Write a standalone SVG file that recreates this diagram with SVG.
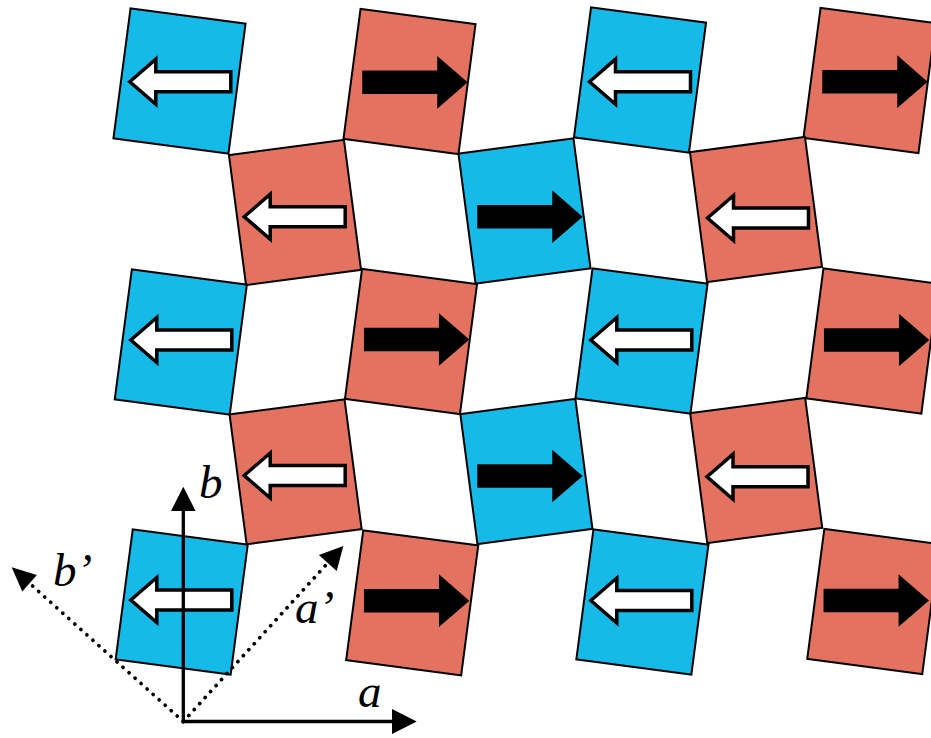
<svg xmlns="http://www.w3.org/2000/svg" xmlns:xlink="http://www.w3.org/1999/xlink" width="931" height="738" viewBox="0 0 931 738">
<style>
.blue{fill:#15BAE8;stroke:#000;stroke-width:2}
.red{fill:#E47260;stroke:#000;stroke-width:2}
.wa{fill:#fff;stroke:#000;stroke-width:3.5;stroke-linejoin:miter}
.ba{fill:#000;stroke:#000;stroke-width:3.5;stroke-linejoin:miter}
.axis{fill:none;stroke:#000;stroke-width:3.3;stroke-linejoin:miter}
.dot{fill:none;stroke:#000;stroke-width:3.7;stroke-linecap:round;stroke-dasharray:0.1 8}
.lbl{font-family:"Liberation Serif","Times New Roman",serif;font-style:italic;font-size:47px;fill:#000}
</style>
<defs>
<rect id="sq" x="-58" y="-65.5" width="116" height="131"/>
<path id="arr" d="M-50,0 L-24,-22.5 L-24,-10 L51,-10 L51,10 L-24,10 L-24,22.5 Z"/>
</defs>
<rect width="931" height="738" fill="#fff"/>
<g id="r1c1"><use xlink:href="#sq" class="blue" transform="translate(179.5,81) rotate(7.5)"/><use xlink:href="#arr" class="wa" transform="translate(179.8,81.7)"/></g>
<g id="r1c2"><use xlink:href="#sq" class="red" transform="translate(409.5,81.5) rotate(7.5)"/><use xlink:href="#arr" class="ba" transform="translate(415,82.3) scale(-1,1)"/></g>
<g id="r1c3"><use xlink:href="#sq" class="blue" transform="translate(640,80) rotate(7.5)"/><use xlink:href="#arr" class="wa" transform="translate(639.5,81.7)"/></g>
<g id="r1c4"><use xlink:href="#sq" class="red" transform="translate(869.5,80.5) rotate(7.5)"/><use xlink:href="#arr" class="ba" transform="translate(875,81.7) scale(-1,1)"/></g>
<g id="r2c1"><use xlink:href="#sq" class="red" transform="translate(295,212.5) rotate(-7.5)"/><use xlink:href="#arr" class="wa" transform="translate(294.2,216.7)"/></g>
<g id="r2c2"><use xlink:href="#sq" class="blue" transform="translate(524.5,211) rotate(-7.5)"/><use xlink:href="#arr" class="ba" transform="translate(530,216.7) scale(-1,1)"/></g>
<g id="r2c3"><use xlink:href="#sq" class="red" transform="translate(756,209.5) rotate(-7.5)"/><use xlink:href="#arr" class="wa" transform="translate(757.5,218)"/></g>
<g id="r3c1"><use xlink:href="#sq" class="blue" transform="translate(180.8,342) rotate(7.5)"/><use xlink:href="#arr" class="wa" transform="translate(180.8,340)"/></g>
<g id="r3c2"><use xlink:href="#sq" class="red" transform="translate(411,341.5) rotate(7.5)"/><use xlink:href="#arr" class="ba" transform="translate(416.7,339.5) scale(-1,1)"/></g>
<g id="r3c3"><use xlink:href="#sq" class="blue" transform="translate(641.5,341) rotate(7.5)"/><use xlink:href="#arr" class="wa" transform="translate(640.8,340)"/></g>
<g id="r3c4"><use xlink:href="#sq" class="red" transform="translate(872.4,341) rotate(7.5)"/><use xlink:href="#arr" class="ba" transform="translate(876.7,340) scale(-1,1)"/></g>
<g id="r4c1"><use xlink:href="#sq" class="red" transform="translate(295.6,471.8) rotate(-7.5)"/><use xlink:href="#arr" class="wa" transform="translate(294.2,475.5)"/></g>
<g id="r4c2"><use xlink:href="#sq" class="blue" transform="translate(526.4,471.5) rotate(-7.5)"/><use xlink:href="#arr" class="ba" transform="translate(530,476) scale(-1,1)"/></g>
<g id="r4c3"><use xlink:href="#sq" class="red" transform="translate(756.2,470.5) rotate(-7.5)"/><use xlink:href="#arr" class="wa" transform="translate(757,476.7)"/></g>
<g id="r5c1"><use xlink:href="#sq" class="blue" transform="translate(181.7,602) rotate(7.5)"/><use xlink:href="#arr" class="wa" transform="translate(180.8,600)"/></g>
<g id="r5c2"><use xlink:href="#sq" class="red" transform="translate(412.2,602.8) rotate(7.5)"/><use xlink:href="#arr" class="ba" transform="translate(416.7,600.7) scale(-1,1)"/></g>
<g id="r5c3"><use xlink:href="#sq" class="blue" transform="translate(642.4,602) rotate(7.5)"/><use xlink:href="#arr" class="wa" transform="translate(640.8,600.5)"/></g>
<g id="r5c4"><use xlink:href="#sq" class="red" transform="translate(873.3,601.5) rotate(7.5)"/><use xlink:href="#arr" class="ba" transform="translate(876.3,600.5) scale(-1,1)"/></g>
<g id="connectors">
<path class="axis" d="M183.3,508 V721.5 H393"/>
<polygon points="183.3,486.7 171,511 195.6,511" fill="#000"/>
<polygon points="416.7,721.5 392,709 392,734" fill="#000"/>
<path class="dot" d="M183.3,721.5 L29.6,583.3"/>
<polygon points="11.7,567.3 36.9,575.1 22.3,591.5" fill="#000"/>
<path class="dot" d="M183.3,721.5 L327.8,563"/>
<polygon points="343.3,546 336.7,571.1 318.9,554.9" fill="#000"/>
</g>
<g id="labels">
<text class="lbl" x="199" y="498">b</text>
<text class="lbl" x="358" y="707">a</text>
<text class="lbl" x="53" y="586">b’</text>
<text class="lbl" x="295" y="623">a’</text>
</g>
</svg>
